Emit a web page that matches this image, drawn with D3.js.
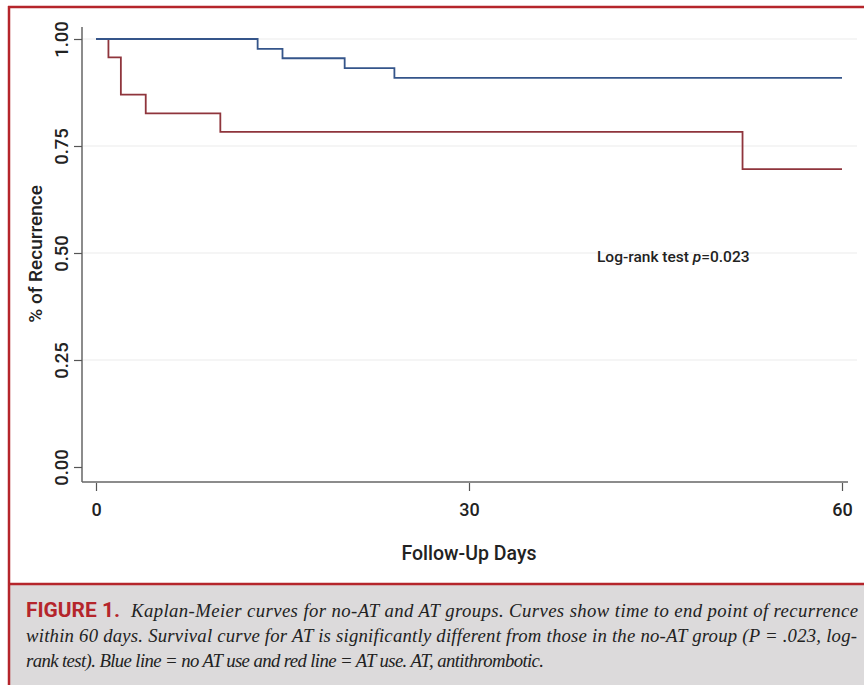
<!DOCTYPE html>
<html>
<head>
<meta charset="utf-8">
<script src="https://cdn.jsdelivr.net/npm/d3@7"></script>
<style>
  body { margin: 0; background: #fff; }
  svg { display: block; }
</style>
</head>
<body>
<div id="chart"></div>
<script>
// Kaplan-Meier step data (day, survival)
const noAT = [
  { day: 0, s: 1.0 }, { day: 13, s: 0.977 }, { day: 15, s: 0.955 },
  { day: 20, s: 0.932 }, { day: 24, s: 0.909 }, { day: 60, s: 0.909 }
];
const withAT = [
  { day: 0, s: 1.0 }, { day: 1, s: 0.957 }, { day: 2, s: 0.870 },
  { day: 4, s: 0.826 }, { day: 10, s: 0.783 }, { day: 52, s: 0.696 },
  { day: 60, s: 0.696 }
];
const yTicks = [0, 0.25, 0.5, 0.75, 1];
const xTicks = [0, 30, 60];
const captionLines = [
  "Kaplan-Meier curves for no-AT and AT groups. Curves show time to end point of recurrence",
  "within 60 days. Survival curve for AT is significantly different from those in the no-AT group (P = .023, log-",
  "rank test). Blue line = no AT use and red line = AT use. AT, antithrombotic."
];

const width = 864, height = 685;
const sans = "Roboto, 'Liberation Sans Narrow', sans-serif";
const red = "#b5252b";

const svg = d3.select("#chart").append("svg")
  .attr("width", width)
  .attr("height", height);

// frame
svg.append("rect").attr("x", 10).attr("y", 585).attr("width", width - 10).attr("height", 100)
  .attr("fill", "#dcdadb");
svg.append("line").attr("x1", 9).attr("x2", 9).attr("y1", 6).attr("y2", height)
  .attr("stroke", red).attr("stroke-width", 2.5);
svg.append("line").attr("x1", 8).attr("x2", width).attr("y1", 7).attr("y2", 7)
  .attr("stroke", red).attr("stroke-width", 2.5);
svg.append("line").attr("x1", 8).attr("x2", width).attr("y1", 584).attr("y2", 584)
  .attr("stroke", red).attr("stroke-width", 2.5);

// scales
const x = d3.scaleLinear().domain([0, 60]).range([96, 842]);
const y = d3.scaleLinear().domain([0, 1]).range([467, 39]);

// gridlines
svg.append("g").selectAll("line")
  .data(yTicks.filter(d => d > 0))
  .join("line")
  .attr("x1", 83).attr("x2", 857)
  .attr("y1", d => y(d)).attr("y2", d => y(d))
  .attr("stroke", "#ececec").attr("stroke-width", 1.2);

// y axis
const yAxis = svg.append("g")
  .attr("transform", "translate(82,0)")
  .call(d3.axisLeft(y).tickValues(yTicks).tickFormat(d3.format(".2f")).tickSize(8).tickPadding(6));
yAxis.select(".domain").attr("d", `M0,${y(1) - 12}V482`).attr("stroke", "#666").attr("stroke-width", 1.5);
yAxis.selectAll(".tick line").attr("stroke", "#555").attr("stroke-width", 1.2);
yAxis.selectAll(".tick text")
  .attr("transform", "rotate(-90)")
  .attr("x", 0).attr("y", -20)
  .attr("dy", "0.35em")
  .attr("text-anchor", "middle")
  .style("font-family", sans).style("font-size", "18.5px").style("font-weight", 500).attr("fill", "#222");

// x axis
const xAxis = svg.append("g")
  .attr("transform", "translate(0,482)")
  .call(d3.axisBottom(x).tickValues(xTicks).tickSize(9).tickPadding(12));
xAxis.select(".domain").attr("d", "M82,0H848").attr("stroke", "#666").attr("stroke-width", 1.5);
xAxis.selectAll(".tick line").attr("stroke", "#555").attr("stroke-width", 1.2).attr("y1", 1);
xAxis.selectAll(".tick text")
  .style("font-family", sans).style("font-size", "18px").style("font-weight", 500).attr("fill", "#222");

// axis titles
svg.append("text")
  .attr("x", 469).attr("y", 560)
  .attr("text-anchor", "middle")
  .style("font-family", sans).style("font-size", "19.5px").style("font-weight", 500).attr("fill", "#222")
  .text("Follow-Up Days");

svg.append("text")
  .attr("transform", "translate(42,254) rotate(-90)")
  .attr("text-anchor", "middle")
  .style("font-family", sans).style("font-size", "19px").style("font-weight", 500).attr("fill", "#222")
  .text("% of Recurrence");

// curves
const line = d3.line()
  .x(d => x(d.day))
  .y(d => y(d.s))
  .curve(d3.curveStepAfter);

svg.append("path").datum(withAT)
  .attr("d", line).attr("fill", "none")
  .attr("stroke", "#8f353c").attr("stroke-width", 1.8);
svg.append("path").datum(noAT)
  .attr("d", line).attr("fill", "none")
  .attr("stroke", "#35558a").attr("stroke-width", 1.8);

// annotation
const ann = svg.append("text")
  .attr("x", 597).attr("y", 262)
  .style("font-family", sans).style("font-size", "15.5px").style("font-weight", 500).attr("fill", "#222");
ann.append("tspan").text("Log-rank test ");
ann.append("tspan").style("font-style", "italic").text("p");
ann.append("tspan").text("=0.023");

// caption
svg.append("text")
  .attr("x", 26).attr("y", 617)
  .attr("textLength", 94)
  .attr("lengthAdjust", "spacingAndGlyphs")
  .style("font-family", sans).style("font-size", "19.5px").style("font-weight", "bold")
  .attr("fill", red)
  .text("FIGURE 1.");

const serif = "'Liberation Serif', 'DejaVu Serif', serif";
const capPos = [
  { x: 131, y: 617, w: 727 },
  { x: 26, y: 642, w: 831 },
  { x: 26, y: 667, w: 518 }
];
const capText = svg.append("g").selectAll("text")
  .data(captionLines)
  .join("text")
  .attr("x", (d, i) => capPos[i].x)
  .attr("y", (d, i) => capPos[i].y)
  .style("font-family", serif).style("font-size", "19px").style("font-style", "italic")
  .attr("fill", "#222")
  .text(d => d);

// one common font size for the caption, then stretch spacing to fit each line
let ratio = 0;
capText.each(function(d, i) { ratio += capPos[i].w / this.getComputedTextLength(); });
ratio /= captionLines.length;
capText.style("font-size", (19 * ratio) + "px")
  .attr("textLength", (d, i) => capPos[i].w)
  .attr("lengthAdjust", "spacing");
</script>
</body>
</html>
